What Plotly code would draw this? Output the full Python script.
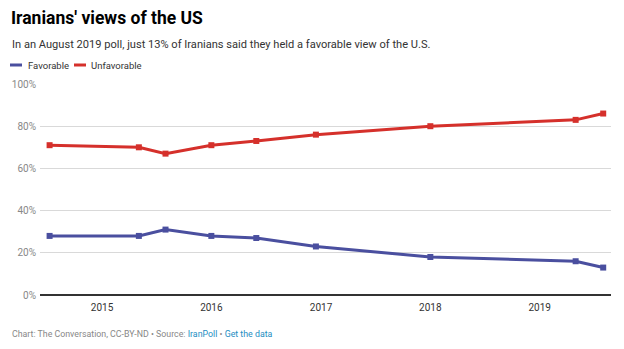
import plotly.graph_objects as go

# IranPoll survey dates and shares (%)
survey_dates = ["2014-07-10", "2015-05-04", "2015-08-01", "2016-01-01", "2016-05-30",
                "2016-12-15", "2018-01-01", "2019-05-01", "2019-08-01"]
favorable = [28, 28, 31, 28, 27, 23, 18, 16, 13]
unfavorable = [71, 70, 67, 71, 73, 76, 80, 83, 86]

year_ticks = ["2015-01-01", "2016-01-01", "2017-01-01", "2018-01-01", "2019-01-01"]
year_labels = ["2015", "2016", "2017", "2018", "2019"]
pct_ticks = [0, 20, 40, 60, 80, 100]
pct_labels = ["0%", "20%", "40%", "60%", "80%", "100%"]

BLUE = "#4a4f9f"
RED = "#d5302b"
FONT = "Roboto"

W, H = 624, 349
ML, MR, MT, MB = 40, 13, 84, 54
PW, PH = W - ML - MR, H - MT - MB


def px_to_paper(px, py):
    """Convert figure pixel position to paper (plot-area) coordinates."""
    return (px - ML) / PW, (H - MB - py) / PH


fig = go.Figure()
for name, vals, col in [("Favorable", favorable, BLUE), ("Unfavorable", unfavorable, RED)]:
    fig.add_trace(go.Scatter(
        x=survey_dates, y=vals, name=name, mode="lines+markers",
        line=dict(color=col, width=3),
        marker=dict(symbol="square", size=6, color=col),
        showlegend=False, hoverinfo="x+y",
    ))

fig.update_layout(
    width=W, height=H,
    margin=dict(l=ML, r=MR, t=MT, b=MB),
    paper_bgcolor="white", plot_bgcolor="white",
    font=dict(family=FONT, size=10, color="#888888"),
    xaxis=dict(
        range=["2014-06-08", "2019-08-27"],
        tickvals=year_ticks, ticktext=year_labels,
        showgrid=False, zeroline=False, ticks="", showline=False,
        ticklabelstandoff=5,
        tickfont=dict(size=10, color="#333333"),
    ),
    yaxis=dict(
        range=[0, 100], tickvals=pct_ticks, ticktext=pct_labels,
        showgrid=True, gridcolor="#d9d9d9", gridwidth=1,
        zeroline=True, zerolinecolor="#333333", zerolinewidth=1.5,
        ticks="", ticklabelstandoff=3,
        tickfont=dict(size=10, color="#888888"),
    ),
)

annotations = [
    dict(text="<b>Iranians' views of the US</b>", x=9, y=18, font=dict(size=17.5, color="#000000")),
    dict(text="In an August 2019 poll, just 13% of Iranians said they held a favorable view of the U.S.",
         x=10, y=44, font=dict(size=11.1, color="#333333")),
    dict(text="Favorable", x=26, y=65, font=dict(size=9.5, color="#333333")),
    dict(text="Unfavorable", x=89, y=65, font=dict(size=9.5, color="#333333")),
    dict(text="Chart: The Conversation, CC-BY-ND • Source: <span style='color:#1d8ec2'>IranPoll</span>"
              " • <span style='color:#1d8ec2'>Get the data</span>",
         x=10, y=334, font=dict(size=8.8, color="#888888")),
]
for a in annotations:
    ax, ay = px_to_paper(a["x"], a["y"])
    fig.add_annotation(
        text=a["text"], x=ax, y=ay,
        xref="paper", yref="paper", xanchor="left", yanchor="middle",
        showarrow=False, font=dict(family=FONT, **a["font"]),
    )

# legend swatches
for x0, col in [(10, BLUE), (74, RED)]:
    sx0, sy = px_to_paper(x0, 65)
    sx1, _ = px_to_paper(x0 + 12, 65)
    fig.add_shape(type="line", xref="paper", yref="paper",
                  x0=sx0, x1=sx1, y0=sy, y1=sy,
                  line=dict(color=col, width=3))

fig.write_html("out.html")
